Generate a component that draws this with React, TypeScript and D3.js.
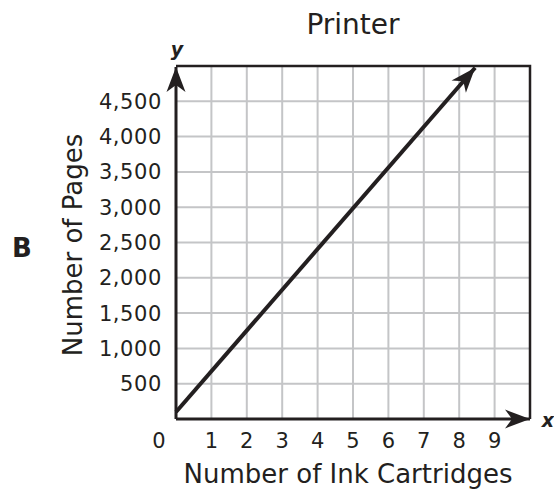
import { useEffect, useRef } from "react";
import * as d3 from "d3";

const xTicks = [1, 2, 3, 4, 5, 6, 7, 8, 9];
const yTicks = [500, 1000, 1500, 2000, 2500, 3000, 3500, 4000, 4500];
const xGrid = [1, 2, 3, 4, 5, 6, 7, 8, 9];
const yGrid = [500, 1000, 1500, 2000, 2500, 3000, 3500, 4000, 4500];
const lineX = [0, 8.45];
const lineY = [100, 4975];

const title = "Printer";
const xTitle = "Number of Ink Cartridges";
const yTitle = "Number of Pages";
const choice = "B";

export default function App() {
  const svgRef = useRef<SVGSVGElement>(null);

  useEffect(() => {
    if (!svgRef.current) return;
    const svg = d3.select(svgRef.current);
    svg.selectAll("*").remove();

    const width = 554;
    const height = 490;
    const margin = { top: 66, right: 24, bottom: 71, left: 176 };
    const innerW = width - margin.left - margin.right;
    const innerH = height - margin.top - margin.bottom;
    const font = "'DejaVu Sans', Verdana, sans-serif";
    const ink = "#231f20";

    svg.attr("width", width).attr("height", height);

    const defs = svg.append("defs");
    defs
      .append("marker")
      .attr("id", "arrow")
      .attr("markerUnits", "userSpaceOnUse")
      .attr("viewBox", "-26 -11 28 22")
      .attr("refX", 0)
      .attr("refY", 0)
      .attr("markerWidth", 28)
      .attr("markerHeight", 22)
      .attr("orient", "auto")
      .append("path")
      .attr("d", "M0,0 L-25,-9.5 L-18,0 L-25,9.5 Z")
      .attr("fill", ink);

    const g = svg
      .append("g")
      .attr("transform", `translate(${margin.left},${margin.top})`);

    const x = d3.scaleLinear().domain([0, 10]).range([0, innerW]);
    const y = d3.scaleLinear().domain([0, 5000]).range([innerH, 0]);

    // grid
    g.selectAll(".vg")
      .data(xGrid)
      .join("line")
      .attr("x1", (d) => x(d))
      .attr("x2", (d) => x(d))
      .attr("y1", 0)
      .attr("y2", innerH)
      .attr("stroke", "#c4c5c7")
      .attr("stroke-width", 2);
    g.selectAll(".hg")
      .data(yGrid)
      .join("line")
      .attr("y1", (d) => y(d))
      .attr("y2", (d) => y(d))
      .attr("x1", 0)
      .attr("x2", innerW)
      .attr("stroke", "#c4c5c7")
      .attr("stroke-width", 2);

    // frame top / right
    g.append("path")
      .attr("d", `M0,0 H${innerW} V${innerH}`)
      .attr("fill", "none")
      .attr("stroke", ink)
      .attr("stroke-width", 2.5);

    // axes
    g.append("line")
      .attr("x1", x(0))
      .attr("y1", y(0))
      .attr("x2", x(10))
      .attr("y2", y(0))
      .attr("stroke", ink)
      .attr("stroke-width", 3)
      .attr("marker-end", "url(#arrow)");
    g.append("line")
      .attr("x1", x(0))
      .attr("y1", y(0))
      .attr("x2", x(0))
      .attr("y2", y(5000) + 1)
      .attr("stroke", ink)
      .attr("stroke-width", 3)
      .attr("marker-end", "url(#arrow)");

    // data line
    const pts = lineX.map((d, i) => [d, lineY[i]] as [number, number]);
    g.append("path")
      .datum(pts)
      .attr(
        "d",
        d3
          .line<[number, number]>()
          .x((d) => x(d[0]))
          .y((d) => y(d[1]))
      )
      .attr("fill", "none")
      .attr("stroke", ink)
      .attr("stroke-width", 4)
      .attr("marker-end", "url(#arrow)");

    // tick labels
    g.selectAll(".xt")
      .data(xTicks)
      .join("text")
      .attr("x", (d) => x(d))
      .attr("y", innerH + 29)
      .attr("text-anchor", "middle")
      .attr("font-family", font)
      .attr("font-size", 21)
      .attr("fill", ink)
      .text((d) => d);
    g.append("text")
      .attr("x", -17)
      .attr("y", innerH + 29)
      .attr("text-anchor", "middle")
      .attr("font-family", font)
      .attr("font-size", 21)
      .attr("fill", ink)
      .text("0");
    g.selectAll(".yt")
      .data(yTicks)
      .join("text")
      .attr("x", -14)
      .attr("y", (d) => y(d) + 7.5)
      .attr("text-anchor", "end")
      .attr("font-family", font)
      .attr("font-size", 21)
      .attr("letter-spacing", 0.6)
      .attr("fill", ink)
      .text((d) => d3.format(",")(d));

    // axis letters
    g.append("text")
      .attr("x", 1)
      .attr("y", -10)
      .attr("text-anchor", "middle")
      .attr("font-family", font)
      .attr("font-size", 19)
      .attr("font-weight", "bold")
      .attr("font-style", "italic")
      .attr("fill", ink)
      .text("y");
    g.append("text")
      .attr("x", innerW + 18)
      .attr("y", innerH + 8)
      .attr("text-anchor", "middle")
      .attr("font-family", font)
      .attr("font-size", 19)
      .attr("font-weight", "bold")
      .attr("font-style", "italic")
      .attr("fill", ink)
      .text("x");

    // titles
    svg
      .append("text")
      .attr("x", margin.left + innerW / 2)
      .attr("y", 34)
      .attr("text-anchor", "middle")
      .attr("font-family", font)
      .attr("font-size", 28)
      .attr("fill", ink)
      .text(title);
    svg
      .append("text")
      .attr("x", 348)
      .attr("y", 483)
      .attr("text-anchor", "middle")
      .attr("font-family", font)
      .attr("font-size", 26)
      .attr("fill", ink)
      .text(xTitle);
    svg
      .append("text")
      .attr("transform", `translate(82,245) rotate(-90)`)
      .attr("text-anchor", "middle")
      .attr("font-family", font)
      .attr("font-size", 26)
      .attr("fill", ink)
      .text(yTitle);
    svg
      .append("text")
      .attr("x", 22)
      .attr("y", 257)
      .attr("text-anchor", "middle")
      .attr("font-family", font)
      .attr("font-size", 26)
      .attr("font-weight", "bold")
      .attr("fill", ink)
      .text(choice);
  }, []);

  return (
    <div style={{ position: "absolute", left: 0, top: 0, background: "#fff" }}>
      <svg ref={svgRef} style={{ display: "block" }} />
    </div>
  );
}
